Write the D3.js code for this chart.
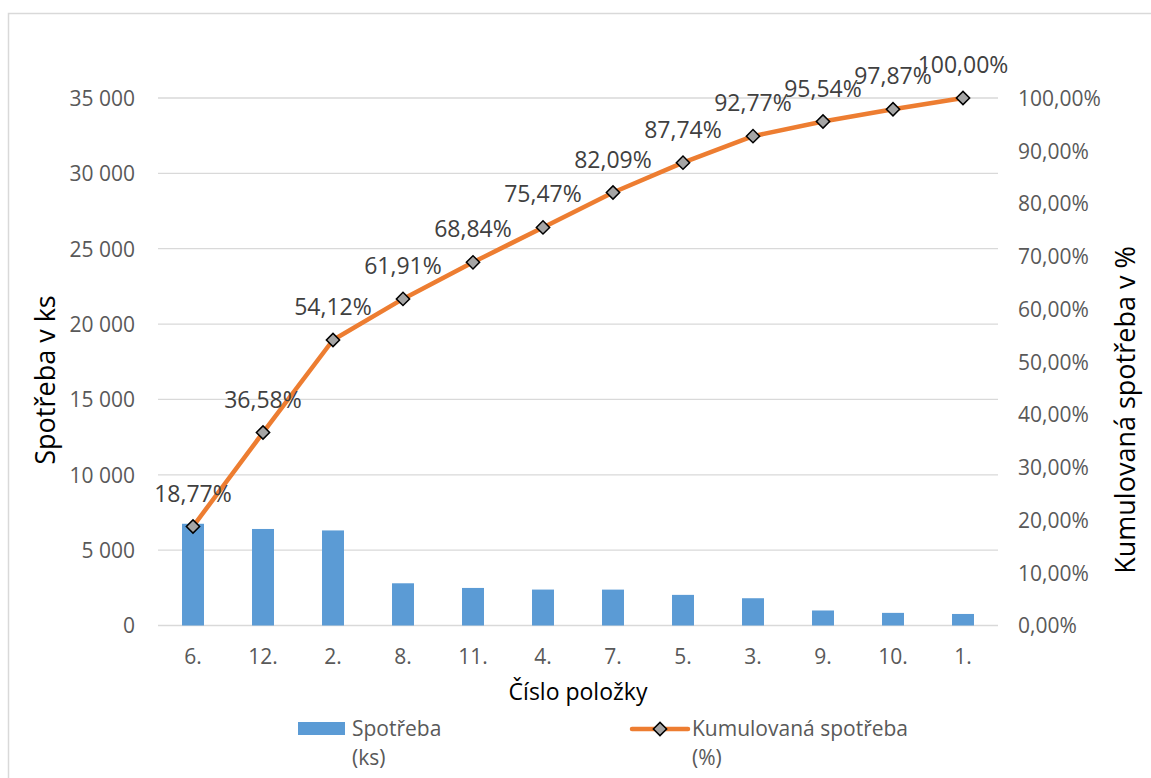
<!DOCTYPE html>
<html lang="cs">
<head>
<meta charset="utf-8">
<script src="https://cdn.jsdelivr.net/npm/d3@7/dist/d3.min.js"></script>
<style>
  html, body { margin: 0; padding: 0; background: #ffffff; }
  svg { display: block; font-family: "Open Sans", "Noto Sans", sans-serif; }
</style>
</head>
<body>
<svg id="chart" width="1151" height="778"></svg>
<script>
// Pareto analysis of item consumption
const items = ["6.", "12.", "2.", "8.", "11.", "4.", "7.", "5.", "3.", "9.", "10.", "1."];
const consumption = [6750, 6405, 6308, 2801, 2492, 2384, 2381, 2032, 1809, 996, 838, 766];
const cumulativePct = [18.77, 36.58, 54.12, 61.91, 68.84, 75.47, 82.09, 87.74, 92.77, 95.54, 97.87, 100.00];
const leftTicks = [0, 5000, 10000, 15000, 20000, 25000, 30000, 35000];
const rightTicks = [0, 10, 20, 30, 40, 50, 60, 70, 80, 90, 100];

const czech = d3.formatLocale({ decimal: ",", thousands: " ", grouping: [3], currency: ["", " Kč"] });
const fmtCount = czech.format(",d");
const fmtPct = v => czech.format(".2f")(v) + "%";

const svg = d3.select("#chart");
const plot = { left: 158, right: 998, top: 98, bottom: 625.5 };

const x = d3.scaleBand().domain(items).range([plot.left, plot.right])
  .paddingInner(0.686).paddingOuter(0.343);
const yLeft = d3.scaleLinear().domain([0, 35000]).range([plot.bottom, plot.top]);
const yRight = d3.scaleLinear().domain([0, 100]).range([plot.bottom, plot.top]);
const cx = d => x(d) + x.bandwidth() / 2;

// outer frame
svg.append("rect").attr("x", 8.5).attr("y", 13.5).attr("width", 1160).attr("height", 800)
  .attr("fill", "none").attr("stroke", "#d9d9d9").attr("stroke-width", 1.5);

// horizontal gridlines
svg.append("g").selectAll("line").data(leftTicks).join("line")
  .attr("x1", plot.left).attr("x2", plot.right)
  .attr("y1", d => yLeft(d)).attr("y2", d => yLeft(d))
  .attr("stroke", "#d9d9d9").attr("stroke-width", 1.3);

// left axis
const gLeft = svg.append("g").attr("transform", `translate(${plot.left - 23},0)`)
  .call(d3.axisLeft(yLeft).tickValues(leftTicks).tickFormat(fmtCount).tickSize(0).tickPadding(0));
gLeft.select(".domain").remove();
gLeft.selectAll("text").attr("fill", "#595959").attr("font-size", 21)
  .attr("font-family", "Open Sans, sans-serif").attr("dy", "0.35em");

// right axis
const gRight = svg.append("g").attr("transform", `translate(${plot.right + 20},0)`)
  .call(d3.axisRight(yRight).tickValues(rightTicks).tickFormat(fmtPct).tickSize(0).tickPadding(0));
gRight.select(".domain").remove();
gRight.selectAll("text").attr("fill", "#595959").attr("font-size", 21)
  .attr("font-family", "Open Sans, sans-serif").attr("dy", "0.35em");

// category axis
const gBottom = svg.append("g").attr("transform", `translate(0,${plot.bottom})`)
  .call(d3.axisBottom(x).tickSize(0).tickPadding(0));
gBottom.select(".domain").remove();
gBottom.selectAll("text").attr("fill", "#595959").attr("font-size", 21)
  .attr("font-family", "Open Sans, sans-serif").attr("dy", "0").attr("y", 38);

// bars
svg.append("g").selectAll("rect").data(items).join("rect")
  .attr("x", d => x(d)).attr("width", x.bandwidth())
  .attr("y", (d, i) => yLeft(consumption[i]))
  .attr("height", (d, i) => yLeft(0) - yLeft(consumption[i]))
  .attr("fill", "#5b9bd5");

// cumulative line
const line = d3.line().x((d, i) => cx(items[i])).y(d => yRight(d));
svg.append("path").datum(cumulativePct).attr("d", line)
  .attr("fill", "none").attr("stroke", "#ed7d31").attr("stroke-width", 4.5)
  .attr("stroke-linejoin", "round").attr("stroke-linecap", "round");

const diamond = d3.symbol().type(d3.symbolSquare).size(88);
svg.append("g").selectAll("path").data(cumulativePct).join("path")
  .attr("d", diamond)
  .attr("transform", (d, i) => `translate(${cx(items[i])},${yRight(d)}) rotate(45)`)
  .attr("fill", "#a5a5a5").attr("stroke", "#000").attr("stroke-width", 1.5);

// data labels
svg.append("g").selectAll("text").data(cumulativePct).join("text")
  .attr("x", (d, i) => cx(items[i])).attr("y", d => yRight(d) - 33)
  .attr("dy", "0.35em").attr("text-anchor", "middle")
  .attr("font-size", 23).attr("fill", "#404040")
  .text(d => fmtPct(d));

// axis titles
svg.append("text").attr("transform", "translate(46,380) rotate(-90)")
  .attr("text-anchor", "middle").attr("dy", "0.35em").attr("font-size", 27).attr("fill", "#000")
  .text("Spotřeba v ks");
svg.append("text").attr("transform", "translate(1126,410) rotate(-90)")
  .attr("text-anchor", "middle").attr("dy", "0.35em").attr("font-size", 27).attr("fill", "#000")
  .text("Kumulovaná spotřeba v %");
svg.append("text").attr("x", (plot.left + plot.right) / 2).attr("y", 692)
  .attr("text-anchor", "middle").attr("dy", "0.35em").attr("font-size", 23).attr("fill", "#000")
  .text("Číslo položky");

// legend
const legend = svg.append("g");
legend.append("rect").attr("x", 298).attr("y", 722).attr("width", 47).attr("height", 13).attr("fill", "#5b9bd5");
const t1 = legend.append("text").attr("x", 352).attr("y", 736).attr("font-size", 21).attr("fill", "#595959");
t1.append("tspan").attr("x", 352).text("Spotřeba");
t1.append("tspan").attr("x", 352).attr("dy", 29).text("(ks)");
legend.append("line").attr("x1", 632).attr("x2", 688).attr("y1", 729).attr("y2", 729)
  .attr("stroke", "#ed7d31").attr("stroke-width", 4.5).attr("stroke-linecap", "round");
legend.append("path").attr("d", diamond).attr("transform", "translate(660,729) rotate(45)")
  .attr("fill", "#a5a5a5").attr("stroke", "#000").attr("stroke-width", 1.5);
const t2 = legend.append("text").attr("x", 692).attr("y", 736).attr("font-size", 21).attr("fill", "#595959");
t2.append("tspan").attr("x", 692).text("Kumulovaná spotřeba");
t2.append("tspan").attr("x", 692).attr("dy", 29).text("(%)");
</script>
</body>
</html>
